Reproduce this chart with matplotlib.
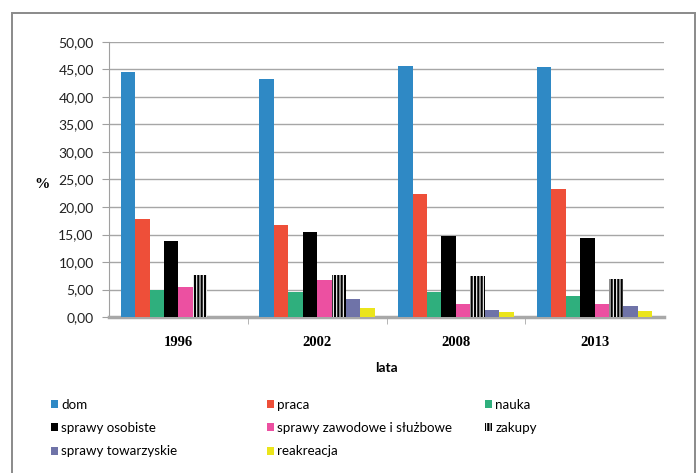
import matplotlib
matplotlib.use("Agg")
import matplotlib.pyplot as plt
import matplotlib.patches as mpatches
from matplotlib.ticker import FuncFormatter, MultipleLocator
import numpy as np

years = ["1996", "2002", "2008", "2013"]
categories = ["dom", "praca", "nauka", "sprawy osobiste",
              "sprawy zawodowe i służbowe", "zakupy",
              "sprawy towarzyskie", "reakreacja"]

dom = [44.6, 43.3, 45.7, 45.5]
praca = [17.9, 16.7, 22.4, 23.2]
nauka = [5.0, 4.6, 4.6, 3.9]
sprawy_osobiste = [13.8, 15.45, 14.8, 14.4]
sprawy_zawodowe = [5.45, 6.7, 2.4, 2.4]
zakupy = [7.6, 7.6, 7.45, 7.0]
sprawy_towarzyskie = [0.0, 3.3, 1.3, 2.05]
reakreacja = [0.0, 1.6, 0.9, 1.15]

series = [dom, praca, nauka, sprawy_osobiste, sprawy_zawodowe,
          zakupy, sprawy_towarzyskie, reakreacja]
colors = ["#2F89C5", "#EE4F39", "#2FAF7D", "#000000", "#EC50A1",
          "#FFFFFF", "#6F73A8", "#EBE51B"]

plt.rcParams["hatch.linewidth"] = 1.6

W, H = 697, 473
fig = plt.figure(figsize=(W / 100, H / 100), dpi=100)

# outer chart frame
fig.patches.append(mpatches.Rectangle((12 / W, -0.05), (695 - 12) / W, 1 - 13 / H + 0.05,
                                      transform=fig.transFigure, fill=False,
                                      edgecolor="#8a8a8a", lw=1.4))

ax = fig.add_axes([109 / W, 1 - 317 / H, (664 - 109) / W, (317 - 42) / H])

x = np.arange(len(years))
bw = 0.104
handles = []
for i, (vals, col, name) in enumerate(zip(series, colors, categories)):
    off = (i - 3.5) * bw
    if name == "zakupy":
        b = ax.bar(x + off, vals, bw, facecolor="white", edgecolor="black",
                   hatch="|||||", linewidth=0, zorder=3, label=name)
    else:
        b = ax.bar(x + off, vals, bw, color=col, linewidth=0, zorder=3, label=name)
    handles.append(b)

ax.set_xlim(-0.5, 3.5)
ax.set_ylim(0, 50)
ax.yaxis.set_major_locator(MultipleLocator(5))
ax.yaxis.set_major_formatter(FuncFormatter(lambda v, p: f"{v:.2f}".replace(".", ",")))
ax.grid(axis="y", color="#a6a6a6", lw=1.0, zorder=0)

for s in ["top", "right"]:
    ax.spines[s].set_visible(False)
ax.spines["left"].set_color("#a0a0a0")
ax.spines["bottom"].set_color("#a8a8a8")
ax.spines["bottom"].set_linewidth(2.5)

ax.tick_params(axis="y", direction="out", length=5, color="#a0a0a0",
               labelsize=10, pad=6, labelcolor="#222222")
for lab in ax.get_yticklabels():
    lab.set_fontfamily("Lato")

ax.set_xticks(x)
ax.set_xticklabels(years, fontfamily="Liberation Serif", fontweight="bold", fontsize=10.5)
ax.tick_params(axis="x", length=0, pad=14)
ax.set_xticks([0.5, 1.5, 2.5], minor=True)
ax.tick_params(axis="x", which="minor", direction="out", length=5, color="#a8a8a8")

fig.text(42 / W, 1 - 184 / H, "%", fontfamily="Liberation Serif", fontweight="bold",
         fontsize=11, ha="center", va="center")
fig.text(386 / W, 1 - 368 / H, "lata", fontfamily="Lato", fontweight="bold",
         fontsize=10, ha="center", va="center")

# legend laid out in three columns
cols = [[0, 3, 6], [1, 4, 7], [2, 5]]
xs = [44, 260, 478]
for cidx, xpos in zip(cols, xs):
    fig.legend([handles[i] for i in cidx], [categories[i] for i in cidx],
               loc="upper left", bbox_to_anchor=(xpos / W, 1 - 392 / H),
               frameon=False, ncol=1, handlelength=0.55, handleheight=0.55,
               handletextpad=0.25, labelspacing=0.85, borderpad=0,
               prop={"family": "Lato", "size": 9.6})

fig.savefig("out.png", dpi=100)
